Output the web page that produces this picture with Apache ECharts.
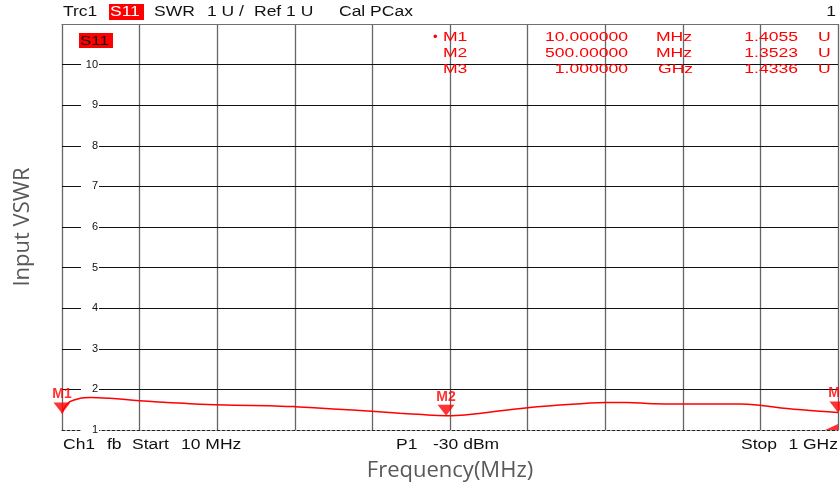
<!DOCTYPE html>
<html>
<head>
<meta charset="utf-8">
<script src="https://cdn.jsdelivr.net/npm/echarts@6/dist/echarts.min.js"></script>
<style>html,body{margin:0;padding:0;background:#fff}#c{width:840px;height:488px}</style>
</head>
<body>
<div id="c"></div>
<script>
// Trace data (frequency in MHz, VSWR)
var freq = [10, 14, 20, 33, 46, 71, 109, 144, 186, 230, 275, 307, 356, 405, 441, 464, 500, 524, 604, 680, 703, 731, 764, 802, 875, 900, 935, 977, 1000];
var vswr = [1.4055, 1.58, 1.70, 1.78, 1.80, 1.78, 1.72, 1.68, 1.635, 1.61, 1.60, 1.575, 1.52, 1.46, 1.41, 1.385, 1.3523, 1.37, 1.55, 1.66, 1.68, 1.68, 1.645, 1.64, 1.64, 1.61, 1.53, 1.46, 1.4336];
// Markers
var markerNames = ['M1', 'M2', 'M3'];
var markerFreq = [10, 500, 1000];
var markerVal = [1.4055, 1.3523, 1.4336];
var markerFreqText = ['10.000000', '500.00000', '1.000000'];
var markerUnit = ['MHz', 'MHz', 'GHz'];
// Reference level marker
var refLevel = [[1000, 1]];
// Axis
var yMin = 1, yMax = 11, yStep = 1;
var xDivisions = 10;

var RED = '#ff0000';
var F = 'Liberation Sans, Arial, sans-serif';

function txt(s, x, y, opt) {
  opt = opt || {};
  return {
    type: 'text', x: x, y: y, scaleX: opt.sx || 1.25, z: 10,
    style: {
      text: s, font: (opt.weight || '') + ' ' + (opt.size || 14) + 'px ' + F, fill: opt.fill || '#111',
      textAlign: opt.align || 'left', textVerticalAlign: 'middle'
    }
  };
}

var graphics = [];
// header
graphics.push(txt('Trc1', 63, 12.5));
graphics.push({type: 'rect', shape: {x: 109, y: 4, width: 35, height: 16}, style: {fill: RED}, z: 9});
graphics.push(txt('S11', 110, 12.5, {fill: '#fff'}));
graphics.push(txt('SWR', 154, 12.5));
graphics.push(txt('1 U /', 207, 12.5));
graphics.push(txt('Ref 1 U', 254, 12.5));
graphics.push(txt('Cal PCax', 339, 12.5));
graphics.push(txt('1', 836, 12.5, {align: 'right'}));
// trace label box
graphics.push({type: 'rect', shape: {x: 79, y: 33, width: 34, height: 15}, style: {fill: RED}, z: 9});
graphics.push(txt('S11', 80, 41.5, {size: 13, sx: 1.3}));
// marker table
var rowsY = [37.5, 53, 69];
graphics.push(txt('\u2022', 433, rowsY[0], {size: 13, sx: 1, fill: RED}));
for (var i = 0; i < markerNames.length; i++) {
  var o = {size: 13, sx: 1.35, fill: RED};
  graphics.push(txt(markerNames[i], 443, rowsY[i], o));
  graphics.push(txt(markerFreqText[i], 628, rowsY[i], {size: 13, sx: 1.35, fill: RED, align: 'right'}));
  graphics.push(txt(markerUnit[i], markerUnit[i] === 'GHz' ? 658 : 656, rowsY[i], o));
  graphics.push(txt(markerVal[i].toFixed(4), 798, rowsY[i], {size: 13, sx: 1.35, fill: RED, align: 'right'}));
  graphics.push(txt('U', 818, rowsY[i], o));
}
// footer
graphics.push(txt('Ch1', 63, 445));
graphics.push(txt('fb', 107, 445));
graphics.push(txt('Start', 132, 445));
graphics.push(txt('10 MHz', 181, 445));
graphics.push(txt('P1', 396, 445));
graphics.push(txt('-30 dBm', 433, 445));
graphics.push(txt('Stop', 741, 445));
graphics.push(txt('1 GHz', 838, 445, {align: 'right'}));

var chart = echarts.init(document.getElementById('c'), null, {renderer: 'canvas'});
chart.setOption({
  animation: false,
  backgroundColor: '#fff',
  grid: {left: 62, right: 2, top: 24, bottom: 58, containLabel: false},
  xAxis: [{
    type: 'value', min: 0, max: xDivisions, interval: 1, position: 'bottom',
    axisLine: {show: true, onZero: false, lineStyle: {color: '#222', type: [3, 2], width: 1}},
    axisTick: {show: false}, axisLabel: {show: false},
    splitLine: {show: true, lineStyle: {color: '#666', width: 1.3}},
    name: 'Frequency(MHz)', nameLocation: 'middle', nameGap: 30,
    nameTextStyle: {fontFamily: 'Open Sans', fontSize: 22, color: '#595959'},
    z: 0
  }, {
    type: 'value', min: 10, max: 1000, position: 'top',
    axisLine: {show: true, onZero: false, lineStyle: {color: '#707070', width: 1}},
    axisTick: {show: false}, axisLabel: {show: false}, splitLine: {show: false},
    z: 0
  }],
  yAxis: {
    type: 'value', min: yMin, max: yMax, interval: yStep,
    axisLine: {show: false}, axisTick: {show: false},
    splitLine: {show: true, showMinLine: false, showMaxLine: false, lineStyle: {color: '#111', width: 1}},
    axisLabel: {
      inside: true, margin: 37, align: 'right', width: 16, padding: [0, 1, 0, 1],
      backgroundColor: '#fff', color: '#111', fontSize: 11, fontFamily: F,
      formatter: function (v) { return v >= yMax ? '' : String(v); }
    },
    name: 'Input VSWR', nameLocation: 'middle', nameGap: 28,
    nameTextStyle: {fontFamily: 'Open Sans', fontSize: 22, color: '#595959'},
    z: 1
  },
  series: [{
    type: 'line', xAxisIndex: 1, showSymbol: false, smooth: 0.4,
    data: freq.map(function (f, i) { return [f, vswr[i]]; }),
    lineStyle: {color: RED, width: 1.5}, z: 3
  }, {
    type: 'scatter', xAxisIndex: 1, clip: false,
    symbol: 'path://M0,0L16,0L8,11Z', symbolSize: [17, 11], symbolOffset: [0, -5.5],
    itemStyle: {color: RED},
    label: {show: true, position: 'top', distance: 1, color: RED, fontSize: 14, fontWeight: 'bold', fontFamily: F,
      formatter: function (p) { return p.name; }},
    data: markerNames.map(function (n, i) { return {name: n, value: [markerFreq[i], markerVal[i]]}; }),
    z: 4
  }, {
    type: 'scatter', xAxisIndex: 1, clip: false,
    symbol: 'path://M0,6L13,0L13,6Z', symbolSize: [13, 6], symbolOffset: [-6.5, -3],
    itemStyle: {color: RED}, data: refLevel, z: 4
  }],
  graphic: graphics
});
</script>
</body>
</html>
